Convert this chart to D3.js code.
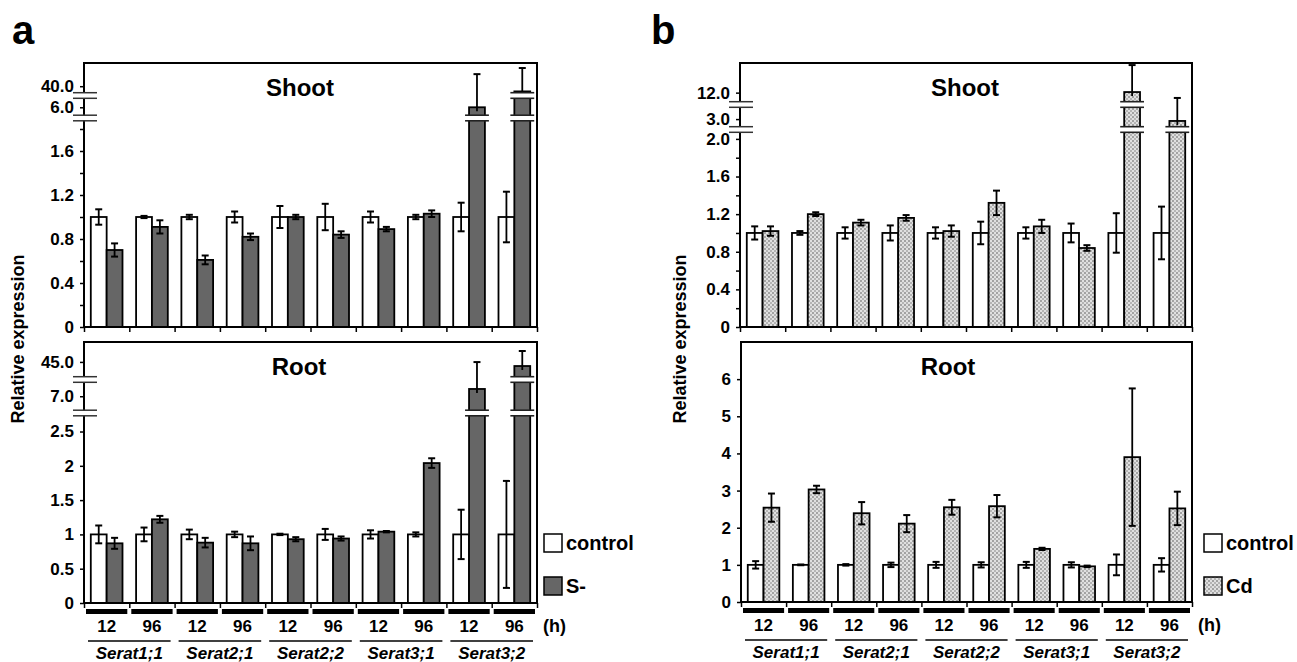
<!DOCTYPE html>
<html><head><meta charset="utf-8">
<script src="https://cdn.jsdelivr.net/npm/d3@7"></script>
<style>
body{margin:0;background:#fff;}
svg text{font-family:"Liberation Sans",Arial,Helvetica,sans-serif;font-weight:bold;fill:#000;}
</style></head><body>
<svg id="chart" width="1297" height="662"></svg>
<script>
// ---------- data ----------
const genes = ["Serat1;1","Serat2;1","Serat2;2","Serat3;1","Serat3;2"];
const times = ["12","96"];
const seriesNames = ["control","treatment"];

// Panel a, Shoot (control vs S-)
const aShootControl    = [1,1,1,1,1,1,1,1,1,1];
const aShootControlErr = [0.07,0.01,0.02,0.05,0.10,0.12,0.05,0.02,0.13,0.23];
const aShootSminus     = [0.70,0.91,0.61,0.82,1.00,0.84,0.89,1.03,6.0,33.3];
const aShootSminusErr  = [0.06,0.06,0.04,0.03,0.02,0.03,0.02,0.03,49.6,30.2];
const aShootTicks      = [0,0.4,0.8,1.2,1.6,6,40];
const aShootTickLabels = ["0","0.4","0.8","1.2","1.6","6.0","40.0"];
const aShootMinorTicks = [0.2,0.6,1.0,1.4,1.8];

// Panel a, Root (control vs S-)
const aRootControl    = [1,1,1,1,1,1,1,1,1,1];
const aRootControlErr = [0.13,0.10,0.07,0.04,0.01,0.08,0.06,0.03,0.36,0.78];
const aRootSminus     = [0.87,1.22,0.88,0.87,0.93,0.94,1.04,2.04,7.87,41.5];
const aRootSminusErr  = [0.08,0.05,0.07,0.10,0.03,0.03,0.01,0.07,37.0,12.8];
const aRootTicks      = [0,0.5,1,1.5,2,2.5,7,45];
const aRootTickLabels = ["0","0.5","1","1.5","2","2.5","7.0","45.0"];

// Panel b, Shoot (control vs Cd)
const bShootControl    = [1,1,1,1,1,1,1,1,1,1];
const bShootControlErr = [0.07,0.02,0.06,0.08,0.06,0.12,0.06,0.10,0.21,0.28];
const bShootCd         = [1.02,1.20,1.11,1.16,1.02,1.32,1.07,0.84,12.2,2.91];
const bShootCdErr      = [0.05,0.02,0.03,0.03,0.06,0.13,0.07,0.03,9.1,7.3];
const bShootTicks      = [0,0.4,0.8,1.2,1.6,2.0,3,12];
const bShootTickLabels = ["0","0.4","0.8","1.2","1.6","2.0","3.0","12.0"];
const bShootMinorTicks = [0.2,0.6,1.0,1.4,1.8];

// Panel b, Root (control vs Cd)
const bRootControl    = [1,1,1,1,1,1,1,1,1,1];
const bRootControlErr = [0.10,0.01,0.02,0.06,0.08,0.07,0.08,0.07,0.28,0.18];
const bRootCd         = [2.54,3.03,2.39,2.11,2.55,2.58,1.43,0.96,3.90,2.52];
const bRootCdErr      = [0.38,0.10,0.30,0.23,0.20,0.30,0.03,0.02,1.85,0.45];
const bRootTicks      = [0,1,2,3,4,5,6];
const bRootTickLabels = ["0","1","2","3","4","5","6"];

// ---------- drawing ----------
const groups = genes.flatMap(g => times.map(t => g + "|" + t));
const svg = d3.select("#chart");
const defs = svg.append("defs");
const pat = defs.append("pattern").attr("id","dots").attr("width",4).attr("height",4)
  .attr("patternUnits","userSpaceOnUse");
pat.append("rect").attr("width",4).attr("height",4).attr("fill","#e0e0e0");
pat.append("circle").attr("cx",1).attr("cy",1).attr("r",0.95).attr("fill","#888");
pat.append("circle").attr("cx",3).attr("cy",3).attr("r",0.95).attr("fill","#a2a2a2");

const FONT = "Liberation Sans, Arial, Helvetica, sans-serif";

function drawPanel(p) {
  const x0 = d3.scaleBand().domain(groups).range([p.left, p.right]).paddingInner(0.3).paddingOuter(0.15);
  const x1 = d3.scaleBand().domain(seriesNames).range([0, x0.bandwidth()]);
  const xb = d3.scaleLinear().domain([0, groups.length]).range([p.left, p.right]);
  const y = d3.scaleLinear().domain(p.knots).range(p.knotPx);
  const g = svg.append("g");
  const base = y(0);

  const rows = groups.map((k, i) => ({k, i, c: p.ctrl[i], ce: p.ctrlErr[i], t: p.trt[i], te: p.trtErr[i]}));
  rows.forEach(r => {
    [["control", r.c, r.ce, "#fff"], ["treatment", r.t, r.te, p.trtFill]].forEach(([s, v, e, fill]) => {
      const bx = x0(r.k) + x1(s), bw = x1.bandwidth();
      g.append("rect").attr("x", bx).attr("y", y(v)).attr("width", bw).attr("height", base - y(v))
        .attr("fill", fill).attr("stroke", "#000").attr("stroke-width", 1.8);
      const cx = bx + bw / 2;
      const broken = p.breakVal !== undefined && v > p.breakVal;
      const yHi = y(v + e), yLo = broken ? y(v) + 4 : y(Math.max(0, v - e));
      g.append("line").attr("x1", cx).attr("x2", cx).attr("y1", yHi).attr("y2", yLo)
        .attr("stroke", "#000").attr("stroke-width", 1.8);
      g.append("line").attr("x1", cx - 3.5).attr("x2", cx + 3.5).attr("y1", yHi).attr("y2", yHi)
        .attr("stroke", "#000").attr("stroke-width", 2);
      if (!broken) g.append("line").attr("x1", cx - 3.5).attr("x2", cx + 3.5).attr("y1", yLo).attr("y2", yLo)
        .attr("stroke", "#000").attr("stroke-width", 2);
      (p.breakPx || []).forEach(by => {
        if (y(v) < by - 3) {
          g.append("rect").attr("x", bx - 4).attr("y", by - 2.5).attr("width", bw + 8).attr("height", 5).attr("fill", "#fff");
          [by - 2.8, by + 2.8].forEach(ly => g.append("line").attr("x1", bx - 4).attr("x2", bx + bw + 4)
            .attr("y1", ly).attr("y2", ly).attr("stroke", "#222").attr("stroke-width", 1.6));
        }
      });
    });
  });

  g.append("rect").attr("x", p.left).attr("y", p.top).attr("width", p.right - p.left).attr("height", base - p.top)
    .attr("fill", "none").attr("stroke", "#000").attr("stroke-width", 2);

  const ax = d3.axisLeft(y).tickValues(p.ticks).tickFormat((d, i) => p.tickLabels[i]).tickSize(4).tickPadding(6).tickSizeOuter(0);
  const ga = g.append("g").attr("transform", `translate(${p.left},0)`).call(ax);
  ga.select(".domain").remove();
  ga.attr("font-size", 17).attr("font-family", FONT).attr("font-weight", "bold");
  ga.selectAll("line").attr("stroke-width", 1.5);
  if (p.minor) {
    const gm = g.append("g").attr("transform", `translate(${p.left},0)`)
      .call(d3.axisLeft(y).tickValues(p.minor).tickFormat("").tickSize(4).tickSizeOuter(0));
    gm.select(".domain").remove();
    gm.selectAll("line").attr("stroke-width", 1.5);
  }
  (p.breakPx || []).forEach(by => {
    g.append("rect").attr("x", p.left - 11).attr("y", by - 2.5).attr("width", 24).attr("height", 5).attr("fill", "#fff");
    [by - 2.8, by + 2.8].forEach(ly => g.append("line").attr("x1", p.left - 11).attr("x2", p.left + 13)
      .attr("y1", ly).attr("y2", ly).attr("stroke", "#333").attr("stroke-width", 1.5));
  });

  const gb = g.append("g").attr("transform", `translate(0,${base})`)
    .call(d3.axisBottom(xb).tickValues(d3.range(groups.length + 1)).tickFormat("").tickSize(5).tickSizeOuter(0));
  gb.select(".domain").remove();
  gb.selectAll("line").attr("stroke-width", 1.5);

  g.append("text").attr("x", p.titleX).attr("y", p.titleY).attr("text-anchor", "middle")
    .attr("font-size", 24).text(p.title);

  if (p.categories) {
    groups.forEach((k, i) => {
      g.append("rect").attr("x", xb(i) + 2).attr("y", base + 6).attr("width", xb(i + 1) - xb(i) - 4).attr("height", 5).attr("fill", "#000");
      g.append("text").attr("x", (xb(i) + xb(i + 1)) / 2).attr("y", base + 29).attr("text-anchor", "middle")
        .attr("font-size", 17).text(k.split("|")[1]);
    });
    genes.forEach((gn, j) => {
      g.append("line").attr("x1", xb(2 * j) + 4).attr("x2", xb(2 * j + 2) - 4).attr("y1", base + 38).attr("y2", base + 38)
        .attr("stroke", "#000").attr("stroke-width", 1.3);
      g.append("text").attr("x", xb(2 * j + 1)).attr("y", base + 56).attr("text-anchor", "middle")
        .attr("font-size", 17).attr("font-style", "italic").text(gn);
    });
    g.append("text").attr("x", p.right + 6).attr("y", base + 29).attr("font-size", 18).text("(h)");
  }
}

drawPanel({left: 84, right: 537, top: 63, knots: [0, 1.9, 4, 8.2, 28, 70], knotPx: [327, 118, 118, 95.5, 95.5, 63],
  breakPx: [118, 95.5], breakVal: 1.9, ticks: aShootTicks, tickLabels: aShootTickLabels, minor: aShootMinorTicks,
  ctrl: aShootControl, ctrlErr: aShootControlErr, trt: aShootSminus, trtErr: aShootSminusErr, trtFill: "#666",
  title: "Shoot", titleX: 300, titleY: 96});
drawPanel({left: 84, right: 537, top: 342, knots: [0, 2.77, 5, 9, 30, 62], knotPx: [603, 413, 413, 379.5, 379.5, 342],
  breakPx: [413, 379.5], breakVal: 2.77, ticks: aRootTicks, tickLabels: aRootTickLabels,
  ctrl: aRootControl, ctrlErr: aRootControlErr, trt: aRootSminus, trtErr: aRootSminusErr, trtFill: "#666",
  title: "Root", titleX: 299, titleY: 375, categories: true});
drawPanel({left: 740, right: 1192, top: 63, knots: [0, 2.1, 2.5, 3.7, 8, 22], knotPx: [327, 129.5, 129.5, 104.5, 104.5, 63],
  breakPx: [129.5, 104.5], breakVal: 2.1, ticks: bShootTicks, tickLabels: bShootTickLabels, minor: bShootMinorTicks,
  ctrl: bShootControl, ctrlErr: bShootControlErr, trt: bShootCd, trtErr: bShootCdErr, trtFill: "url(#dots)",
  title: "Shoot", titleX: 965, titleY: 96});
drawPanel({left: 741, right: 1192, top: 342, knots: [0, 7], knotPx: [602, 342],
  ticks: bRootTicks, tickLabels: bRootTickLabels,
  ctrl: bRootControl, ctrlErr: bRootControlErr, trt: bRootCd, trtErr: bRootCdErr, trtFill: "url(#dots)",
  title: "Root", titleX: 948, titleY: 375, categories: true});

[[24, 339], [686, 339]].forEach(([x, yy]) => {
  svg.append("text").attr("transform", `translate(${x},${yy}) rotate(-90)`).attr("text-anchor", "middle")
    .attr("font-size", 18).text("Relative expression");
});
svg.append("text").attr("x", 12).attr("y", 44).attr("font-size", 40).text("a");
svg.append("text").attr("x", 651).attr("y", 44).attr("font-size", 40).text("b");

function legend(x, items) {
  items.forEach(([label, fill, yy]) => {
    svg.append("rect").attr("x", x).attr("y", yy).attr("width", 18).attr("height", 18)
      .attr("fill", fill).attr("stroke", "#000").attr("stroke-width", 1.5);
    svg.append("text").attr("x", x + 22).attr("y", yy + 16).attr("font-size", 20).text(label);
  });
}
legend(544, [["control", "#fff", 534], ["S-", "#666", 577]]);
legend(1204, [["control", "#fff", 534], ["Cd", "url(#dots)", 577]]);
</script>
</body></html>
